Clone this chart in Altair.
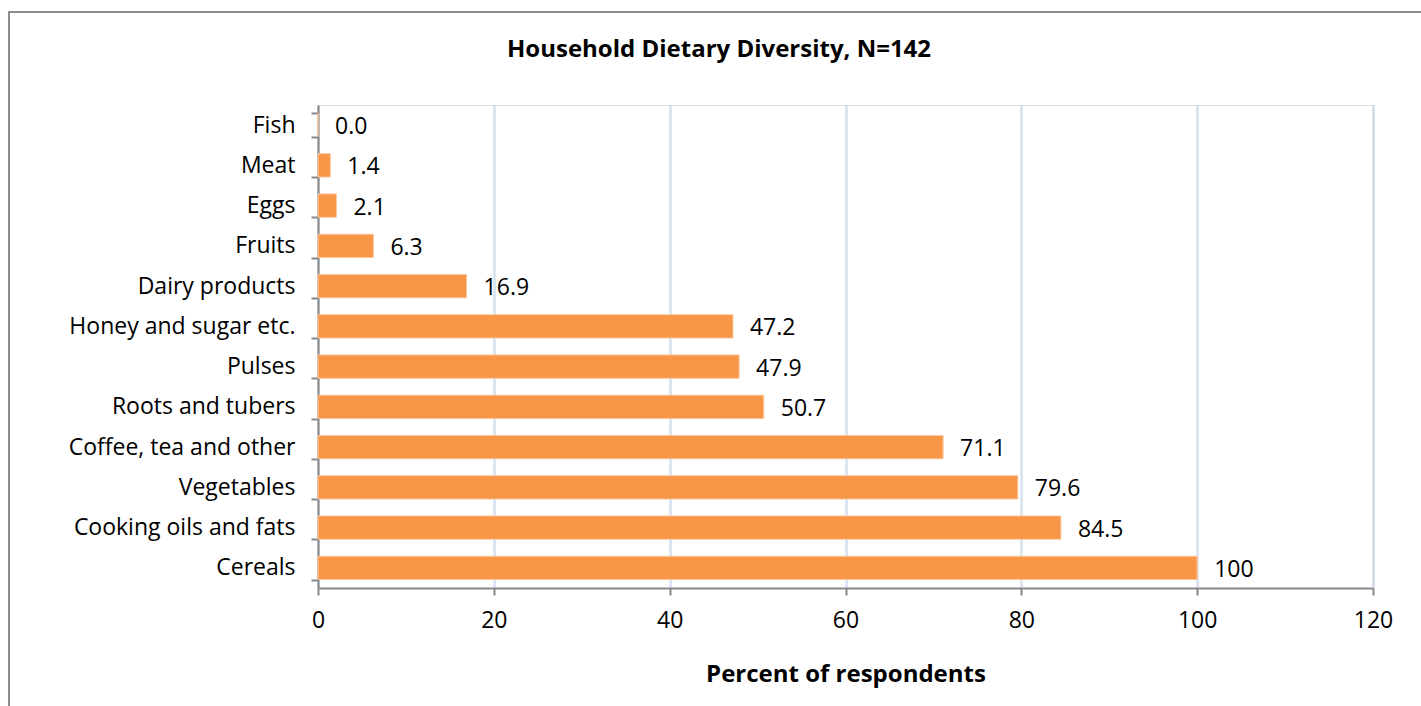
import altair as alt
import pandas as pd

# Food groups consumed by households (percent of respondents)
food_groups = [
    "Fish", "Meat", "Eggs", "Fruits", "Dairy products", "Honey and sugar etc.",
    "Pulses", "Roots and tubers", "Coffee, tea and other", "Vegetables",
    "Cooking oils and fats", "Cereals",
]
percent = [0.0, 1.4, 2.1, 6.3, 16.9, 47.2, 47.9, 50.7, 71.1, 79.6, 84.5, 100]
value_labels = ["0.0", "1.4", "2.1", "6.3", "16.9", "47.2", "47.9", "50.7",
                "71.1", "79.6", "84.5", "100"]

df = pd.DataFrame({"group": food_groups, "pct": percent, "label": value_labels})

FONT = "Open Sans"
W, H = 1055, 483

y_enc = alt.Y(
    "group:N",
    sort=food_groups,
    title=None,
    scale=alt.Scale(paddingInner=0.42, paddingOuter=0.21),
    axis=alt.Axis(
        labelFont=FONT, labelFontSize=23, labelColor="#000000", labelLimit=400,
        labelPadding=16, tickBand="extent", tickSize=7, tickColor="#888888",
        tickWidth=2, domainColor="#888888", domainWidth=2, grid=False,
    ),
)

x_enc = alt.X(
    "pct:Q",
    title="Percent of respondents",
    scale=alt.Scale(domain=[0, 120], nice=False),
    axis=alt.Axis(
        values=[0, 20, 40, 60, 80, 100, 120], labelFlush=False,
        labelFont=FONT, labelFontSize=23, labelColor="#000000", labelPadding=14,
        tickSize=7, tickColor="#888888", tickWidth=2,
        domainColor="#888888", domainWidth=2,
        grid=True, gridColor="#b9cde5", gridWidth=3, gridDash=[1, 1],
        titleFont=FONT, titleFontSize=24, titleFontWeight="bold",
        titleColor="#000000", titlePadding=30,
    ),
)

bars = alt.Chart(df).mark_bar(color="#f79646", stroke="#fbc79e", strokeWidth=1).encode(
    x=x_enc, y=y_enc
)

labels = alt.Chart(df).mark_text(
    align="left", baseline="middle", dx=17, dy=2, font=FONT, fontSize=23, color="#000000"
).encode(x="pct:Q", y=alt.Y("group:N", sort=food_groups), text="label:N")

title = alt.Chart(pd.DataFrame({"t": ["Household Dietary Diversity, N=142"]})).mark_text(
    font=FONT, fontSize=24, fontWeight="bold", color="#000000", align="center", baseline="middle"
).encode(x=alt.value(401), y=alt.value(-55), text="t:N")

frame = alt.Chart(pd.DataFrame({"a": [0]})).mark_rect(
    fill=None, stroke="#8c8c8c", strokeWidth=2
).encode(x=alt.value(-309), y=alt.value(-93), x2=alt.value(1130), y2=alt.value(700))

chart = (
    alt.layer(frame, bars, labels, title)
    .properties(width=W, height=H, autosize="none",
                padding={"left": 318, "top": 105, "right": 48, "bottom": 118})
    .configure_view(stroke=None)
    .configure(background="#ffffff")
)

chart.save("out.html", embed_options={"renderer": "svg", "actions": False})
